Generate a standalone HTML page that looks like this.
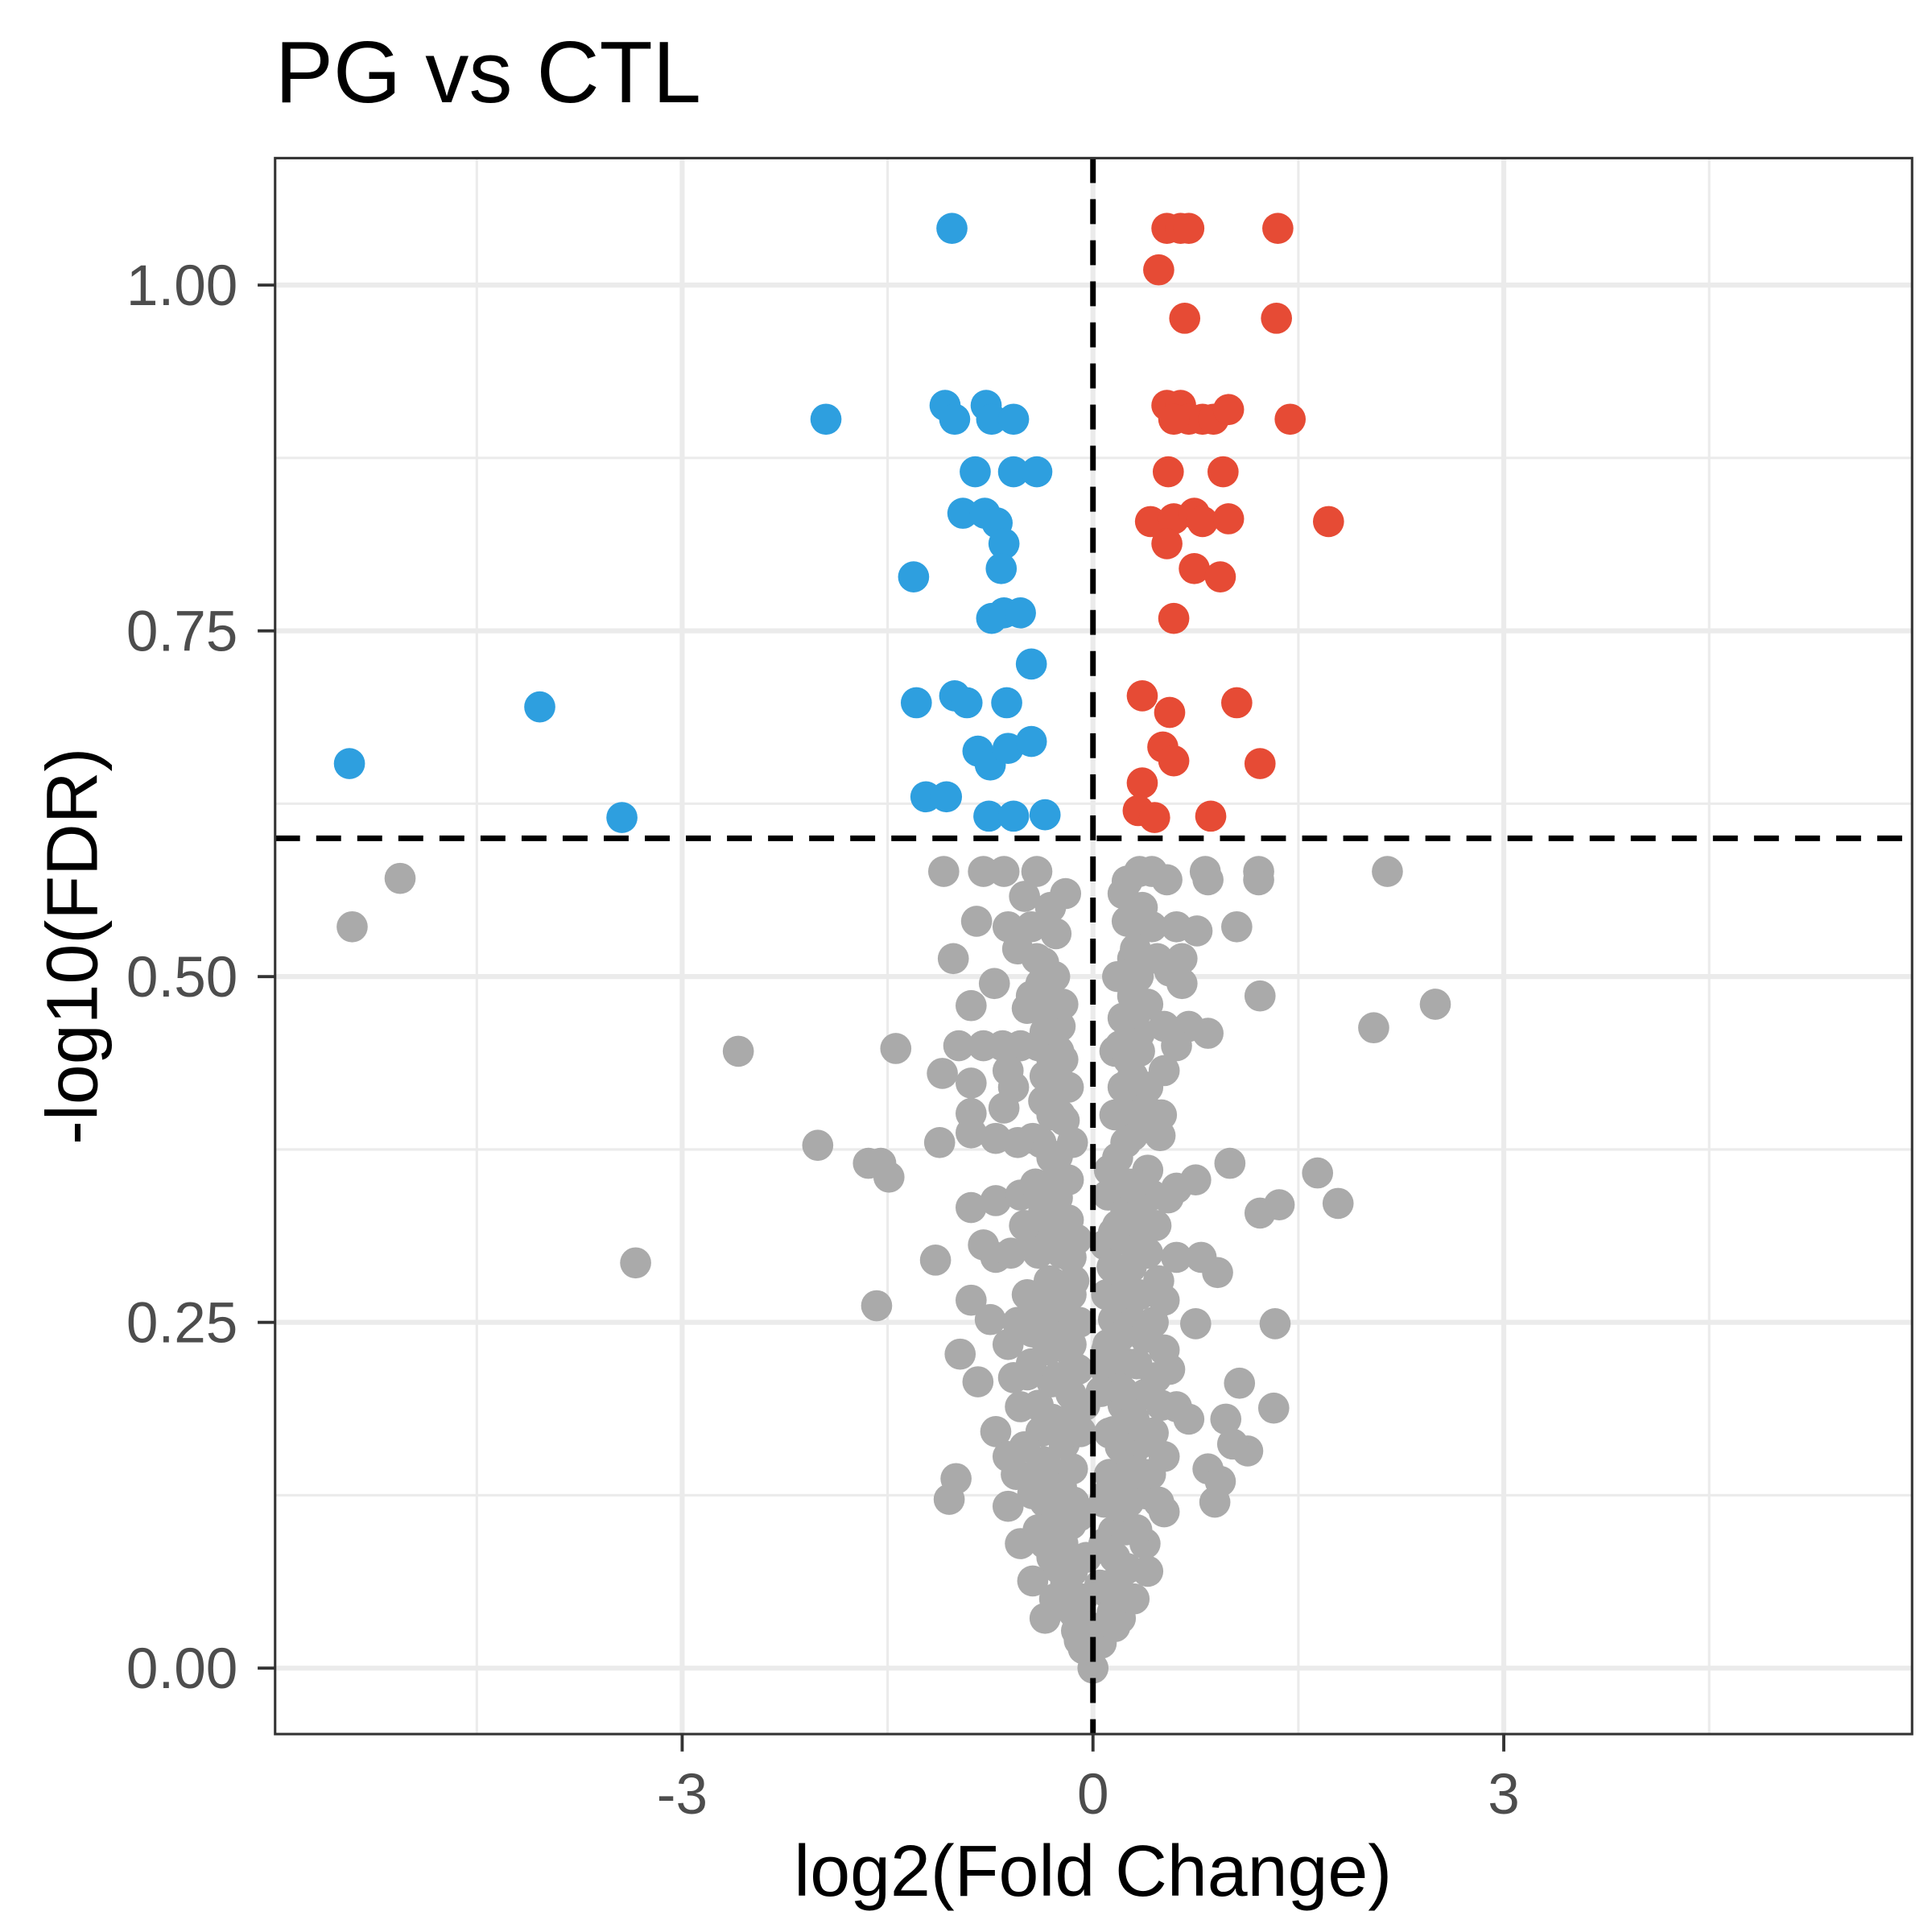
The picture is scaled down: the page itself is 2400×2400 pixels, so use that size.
<!DOCTYPE html>
<html><head><meta charset="utf-8"><style>
html,body{margin:0;padding:0;background:#fff}
svg{display:block}
text{font-family:"Liberation Sans",Arial,sans-serif}
</style></head><body>
<svg id="chart" width="2400" height="2400" viewBox="0 0 1552 1552" xmlns="http://www.w3.org/2000/svg">
<rect x="0" y="0" width="1552" height="1552" fill="#fff"/>
<text x="221" y="82" font-size="70" fill="#000">PG vs CTL</text>
<g id="grid"></g>
<g id="points"></g>
<g id="refs"></g>
<rect x="221" y="127" width="1315" height="1266" fill="none" stroke="#333" stroke-width="2"/>
<g id="axes"></g>
<text x="878" y="1523" font-size="58" text-anchor="middle" fill="#000">log2(Fold Change)</text>
<text transform="translate(78,760) rotate(-90)" font-size="58" text-anchor="middle" fill="#000">-log10(FDR)</text>
</svg>
<script>
const xTicks = [-3, 0, 3];
const xTickLabels = ["-3", "0", "3"];
const xMinor = [-4.5, -1.5, 1.5, 4.5];
const yTicks = [0, 0.25, 0.5, 0.75, 1.0];
const yTickLabels = ["0.00", "0.25", "0.50", "0.75", "1.00"];
const yMinor = [0.125, 0.375, 0.625, 0.875];
const fcCut = 0;
const fdrCut = 0.6;

const downPts = [[-1.03,1.041],[-1.95,0.903],[-1.08,0.913],[-1.01,0.903],[-0.78,0.913],[-0.74,0.903],[-0.58,0.903],[-0.86,0.865],[-0.58,0.865],[-0.41,0.865],[-0.95,0.835],[-0.79,0.835],[-0.70,0.828],[-0.65,0.813],[-0.67,0.795],[-1.31,0.789],[-0.74,0.759],[-0.65,0.763],[-0.53,0.763],[-0.45,0.726],[-1.29,0.698],[-1.01,0.703],[-0.92,0.698],[-0.63,0.698],[-4.04,0.695],[-0.84,0.663],[-0.75,0.653],[-0.62,0.665],[-0.45,0.670],[-5.43,0.654],[-1.22,0.630],[-1.07,0.630],[-0.76,0.616],[-0.58,0.616],[-0.35,0.617],[-3.44,0.615]];

const upPts = [[0.54,1.041],[0.64,1.041],[0.70,1.041],[1.35,1.041],[0.48,1.011],[0.67,0.976],[1.34,0.976],[0.54,0.913],[0.64,0.913],[0.70,0.903],[0.80,0.903],[0.88,0.903],[0.99,0.910],[0.59,0.903],[1.44,0.903],[0.55,0.865],[0.95,0.865],[0.42,0.829],[0.59,0.831],[0.74,0.835],[0.80,0.829],[0.99,0.831],[1.72,0.829],[0.54,0.813],[0.74,0.795],[0.93,0.789],[0.59,0.759],[0.36,0.703],[0.56,0.691],[1.05,0.698],[0.51,0.666],[0.59,0.656],[1.22,0.654],[0.36,0.640],[0.33,0.620],[0.45,0.615],[0.86,0.616]];

const nsPts = [[-5.06,0.571],[-5.41,0.536],[-2.59,0.446],[-2.01,0.378],[-3.34,0.293],[-1.64,0.365],[-1.55,0.365],[-1.49,0.355],[-1.58,0.262],[-1.44,0.448],[2.15,0.576],[2.50,0.480],[2.05,0.463],[1.64,0.358],[1.79,0.336],[1.36,0.335],[1.22,0.329],[1.22,0.486],[1.33,0.249],[1.32,0.188],[1.21,0.576],[1.21,0.570],[1.05,0.536],[1.00,0.365],[1.07,0.206],[1.13,0.157],
[-1.09,0.576],[-0.80,0.576],[-0.65,0.576],[-0.41,0.576],[-0.50,0.558],[-0.45,0.536],[-0.62,0.536],[-0.85,0.540],[-1.02,0.513],[-0.72,0.495],[-0.27,0.531],[-0.41,0.513],[-0.38,0.495],[-0.45,0.486],[-0.89,0.479],[-0.48,0.477],[-0.98,0.450],[-0.80,0.450],[-0.66,0.450],[-0.53,0.450],[-0.25,0.446],[-0.24,0.464],[-1.10,0.430],[-0.89,0.423],[-0.62,0.432],[-0.35,0.428],[-0.27,0.423],[-0.89,0.401],[-0.65,0.405],[-0.36,0.410],[-1.12,0.380],[-0.89,0.387],[-0.71,0.383],[-0.44,0.383],[-0.30,0.369],[-0.89,0.333],[-0.71,0.338],[-0.53,0.342],[-0.35,0.342],[-0.18,0.353],[-0.80,0.306],[-0.71,0.297],[-0.44,0.306],[-0.25,0.306],[-1.15,0.295],[-0.89,0.266],[-0.75,0.252],[-0.62,0.234],[-0.44,0.243],[-0.25,0.252],[-0.16,0.270],[-0.97,0.227],[-0.84,0.207],[-0.71,0.171],[-0.48,0.212],[-0.30,0.207],[-0.16,0.198],[-0.53,0.189],[-0.38,0.171],[-0.62,0.153],[-0.35,0.149],[-0.21,0.162],[-1.00,0.137],[-1.05,0.122],[-0.62,0.117],[-0.44,0.126],[-0.25,0.117],[-0.53,0.090],[-0.35,0.090],[-0.16,0.104],[-0.44,0.063],[-0.25,0.072],[-0.35,0.036],[-0.18,0.045],[-0.12,0.027],[-0.07,0.014],[0,0],[-0.30,0.108],[-0.23,0.131],[-0.15,0.144],[-0.09,0.171],[-0.11,0.216],[-0.16,0.234],[-0.16,0.297],[-0.18,0.324],[-0.21,0.396],[-0.25,0.324],[-0.30,0.279],
[0.34,0.576],[0.43,0.576],[0.54,0.570],[0.25,0.569],[0.82,0.576],[0.84,0.570],[0.25,0.540],[0.43,0.536],[0.61,0.536],[0.76,0.533],[0.29,0.513],[0.47,0.513],[0.65,0.513],[0.56,0.504],[0.29,0.486],[0.65,0.495],[0.34,0.459],[0.52,0.464],[0.70,0.464],[0.84,0.459],[0.16,0.446],[0.34,0.446],[0.61,0.450],[0.29,0.428],[0.52,0.432],[0.29,0.405],[0.43,0.401],[0.29,0.385],[0.49,0.385],[0.20,0.342],[0.43,0.342],[0.61,0.347],[0.75,0.353],[0.15,0.315],[0.34,0.315],[0.61,0.297],[0.79,0.297],[0.91,0.286],[0.14,0.270],[0.34,0.270],[0.52,0.266],[0.75,0.249],[0.11,0.234],[0.38,0.239],[0.56,0.216],[0.15,0.207],[0.38,0.198],[0.61,0.189],[0.70,0.180],[0.97,0.180],[1.02,0.162],[0.84,0.144],[0.93,0.135],[0.89,0.120],[0.15,0.171],[0.34,0.162],[0.52,0.153],[0.20,0.135],[0.38,0.126],[0.52,0.113],[0.15,0.099],[0.38,0.090],[0.25,0.072],[0.11,0.054],[0.20,0.036],[0.06,0.018],[0.11,0.126],[0.09,0.216],[0.09,0.306],[0.11,0.342],[0.18,0.369],[0.15,0.252],
[-0.08,0.05],[-0.05,0.08],[0.05,0.06],[0.08,0.09],[-0.10,0.11],[0.12,0.14],[-0.06,0.19],[0.06,0.20],[-0.10,0.25],[0.10,0.27],[0.18,0.05],[-0.15,0.07],[0.24,0.10],[-0.22,0.09],[0.28,0.15],[-0.27,0.14],[0.22,0.19],[-0.20,0.21],[0.25,0.22],[-0.28,0.24],[0.20,0.28],[-0.23,0.30],[0.28,0.31],[-0.32,0.32],[0.24,0.33],[-0.30,0.35],[0.30,0.35],[0.20,0.40],[-0.29,0.42],[0.30,0.47],[-0.35,0.46],[-0.31,0.55],[0.31,0.52],[0.36,0.55],[-0.14,0.12],[0.14,0.04],[-0.03,0.03],[0.03,0.02],
[-0.20,0.56],[-0.28,0.50],[-0.33,0.48],[-0.40,0.45],[-0.22,0.44],[-0.30,0.40],[-0.38,0.38],[-0.26,0.37],[-0.42,0.35],[-0.36,0.33],[-0.50,0.32],[-0.40,0.30],[-0.32,0.28],[-0.48,0.27],[-0.38,0.26],[-0.55,0.25],[-0.33,0.23],[-0.45,0.22],[-0.26,0.21],[-0.40,0.19],[-0.30,0.18],[-0.50,0.16],[-0.42,0.14],[-0.28,0.13],[-0.35,0.12],[-0.22,0.11],[-0.40,0.10],[-0.30,0.08],[-0.20,0.06],[-0.28,0.05],[-0.14,0.04],[-0.10,0.02],[-0.20,0.17],[-0.12,0.19],[-0.18,0.23],[-0.14,0.28],[-0.22,0.27],[-0.12,0.31],[-0.26,0.34],[-0.15,0.38],[-0.24,0.40],[-0.18,0.42],[-0.30,0.44],[-0.22,0.48],[-0.36,0.51],[-0.55,0.52],[-0.58,0.42],[-0.55,0.38],[-0.60,0.30],[-0.58,0.21],[-0.56,0.14],
[0.22,0.56],[0.28,0.54],[0.33,0.50],[0.40,0.48],[0.22,0.47],[0.26,0.44],[0.40,0.42],[0.22,0.42],[0.36,0.40],[0.24,0.38],[0.40,0.36],[0.26,0.35],[0.34,0.33],[0.46,0.32],[0.22,0.31],[0.40,0.30],[0.28,0.29],[0.48,0.28],[0.22,0.27],[0.30,0.25],[0.44,0.25],[0.20,0.24],[0.32,0.22],[0.46,0.21],[0.22,0.20],[0.30,0.18],[0.44,0.17],[0.20,0.16],[0.28,0.14],[0.42,0.14],[0.18,0.12],[0.26,0.12],[0.32,0.10],[0.16,0.08],[0.22,0.07],[0.12,0.06],[0.16,0.03],[0.08,0.12],[0.12,0.17],[0.10,0.23],[0.14,0.29],[0.12,0.36],[0.18,0.32],[0.16,0.40],[0.20,0.45],[0.18,0.50],[0.26,0.50],[0.50,0.40],[0.55,0.34],[0.52,0.23],[0.50,0.19],[0.48,0.12],[0.40,0.07],[0.30,0.05]];

const svg = document.getElementById('chart');
const NS = 'http://www.w3.org/2000/svg';
const L = 221, R = 1536, T = 127, B = 1393;
const xMin = (L - 878) / 110, xMax = (R - 878) / 110;
const yMin = -(B - 1340) / 1111, yMax = (1340 - T) / 1111;
function sx(v) { return L + (v - xMin) / (xMax - xMin) * (R - L); }
function sy(v) { return B - (v - yMin) / (yMax - yMin) * (B - T); }
function mk(tag, attrs, parent) {
  const e = document.createElementNS(NS, tag);
  for (const k in attrs) e.setAttribute(k, attrs[k]);
  parent.appendChild(e);
  return e;
}
const grid = document.getElementById('grid');
xMinor.forEach(v => {
  const l = mk('line', {x1: sx(v), x2: sx(v), y1: T, y2: B, stroke: '#ebebeb', 'stroke-width': 2}, grid);
  
  
});
yMinor.forEach(v => {
  const l = mk('line', {x1: L, x2: R, y1: sy(v), y2: sy(v), stroke: '#ebebeb', 'stroke-width': 2}, grid);
  
  
});
xTicks.forEach(v => {
  const l = mk('line', {x1: sx(v), x2: sx(v), y1: T, y2: B, stroke: '#ebebeb', 'stroke-width': 4}, grid);
  
  
});
yTicks.forEach(v => {
  const l = mk('line', {x1: L, x2: R, y1: sy(v), y2: sy(v), stroke: '#ebebeb', 'stroke-width': 4}, grid);
  
  
});
const pg = document.getElementById('points');
function drawPts(arr, color, name) {
  arr.forEach(p => {
    const c = mk('circle', {cx: sx(p[0]), cy: sy(p[1]), r: 12.5, fill: color}, pg);
    
    
  });
}
drawPts(nsPts, '#aaaaaa', 'point-not-significant');
drawPts(downPts, '#2e9fdf', 'point-down');
drawPts(upPts, '#e64b35', 'point-up');
const refs = document.getElementById('refs');
const vl = mk('line', {x1: sx(fcCut), x2: sx(fcCut), y1: T, y2: B, stroke: '#000', 'stroke-width': 4.5, 'stroke-dasharray': '20 13'}, refs);


const hl = mk('line', {x1: L, x2: R, y1: sy(fdrCut), y2: sy(fdrCut), stroke: '#000', 'stroke-width': 4.5, 'stroke-dasharray': '20 13'}, refs);


const ax = document.getElementById('axes');
xTicks.forEach((v, i) => {
  const t = mk('line', {x1: sx(v), x2: sx(v), y1: B, y2: B + 14, stroke: '#333', 'stroke-width': 2.5}, ax);
  
  
  const tx = mk('text', {x: sx(v), y: B + 64, 'font-size': 46, 'text-anchor': 'middle', fill: '#4d4d4d'}, ax);
  tx.textContent = xTickLabels[i];
  
  
});
yTicks.forEach((v, i) => {
  const t = mk('line', {x1: L - 14, x2: L, y1: sy(v), y2: sy(v), stroke: '#333', 'stroke-width': 2.5}, ax);
  
  
  const tx = mk('text', {x: L - 30, y: sy(v) + 16, 'font-size': 46, 'text-anchor': 'end', fill: '#4d4d4d'}, ax);
  tx.textContent = yTickLabels[i];
  
  
});
</script>
</body></html>
